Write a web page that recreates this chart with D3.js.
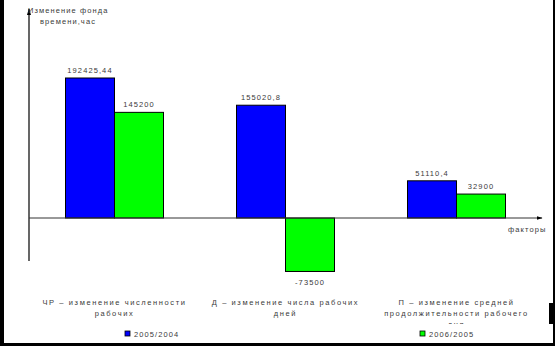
<!DOCTYPE html>
<html><head><meta charset="utf-8">
<script src="https://cdn.jsdelivr.net/npm/d3@7"></script>
<style>
html,body{margin:0;padding:0;background:#fff;}
svg text{font-family:"Liberation Sans",Arial,sans-serif;}
</style></head>
<body>
<script>
const categories = ["ЧР", "Д", "П"];
const categoryLabels = [
  ["ЧР – изменение численности", "рабочих"],
  ["Д – изменение числа рабочих", "дней"],
  ["П – изменение средней", "продолжительности рабочего", "дня"]
];
const seriesNames = ["2005/2004", "2006/2005"];
const series2005_2004 = [192425.44, 155020.8, 51110.4];
const series2006_2005 = [145200, -73500, 32900];
const valueLabels2005_2004 = ["192425,44", "155020,8", "51110,4"];
const valueLabels2006_2005 = ["145200", "-73500", "32900"];
const yTitle = ["Изменение фонда", "времени,час"];
const xTitle = "факторы";
const colors = ["#0000FF", "#00FF00"];

const W = 555, H = 346;
const svg = d3.select("body").append("svg").attr("width", W).attr("height", H);

// frame
svg.append("rect").attr("x",0).attr("y",0).attr("width",W).attr("height",H).attr("fill","#fff");
svg.append("rect").attr("x",0).attr("y",0).attr("width",4).attr("height",H).attr("fill","#000");
svg.append("rect").attr("x",0).attr("y",343).attr("width",W).attr("height",3).attr("fill","#000");
svg.append("rect").attr("x",553).attr("y",0).attr("width",2).attr("height",H).attr("fill","#000");
svg.append("rect").attr("x",549).attr("y",303).attr("width",6).attr("height",21).attr("fill","#000");

const y = d3.scaleLinear().domain([0, 192425.44]).range([218, 78]);
const x0 = d3.scaleBand().domain(categories).range([29, 542]).padding(0);
const bw = 49;
const x1 = d3.scaleBand().domain(seriesNames).range([x0.bandwidth()/2 - bw, x0.bandwidth()/2 + bw]).padding(0);

const txt = (sel) => sel.attr("font-size", "7.5px").attr("letter-spacing", "1.1px").attr("fill", "#3a3a3a");

// axes lines
const defs = svg.append("defs");
defs.append("marker").attr("id","arr").attr("viewBox","0 0 10 10").attr("refX",9).attr("refY",5)
  .attr("markerWidth",6).attr("markerHeight",6).attr("orient","auto")
  .append("path").attr("d","M0,2 L10,5 L0,8 Z").attr("fill","#000");

svg.append("line").attr("x1",29).attr("x2",29).attr("y1",261).attr("y2",9)
  .attr("stroke","#000").attr("stroke-width",1.2).attr("marker-end","url(#arr)");

const groups = svg.selectAll("g.grp").data(categories).join("g")
  .attr("transform", d => `translate(${x0(d)},0)`);

const allSeries = [series2005_2004, series2006_2005];
const allLabels = [valueLabels2005_2004, valueLabels2006_2005];

groups.each(function(c, i) {
  const g = d3.select(this);
  seriesNames.forEach((s, k) => {
    const v = allSeries[k][i];
    g.append("rect")
      .attr("x", x1(s)).attr("width", x1.bandwidth())
      .attr("y", y(Math.max(0, v))).attr("height", Math.abs(y(v) - y(0)))
      .attr("fill", colors[k]).attr("stroke", "#000").attr("stroke-width", 1);
    g.append("text").call(txt)
      .attr("x", x1(s) + x1.bandwidth()/2)
      .attr("y", v >= 0 ? y(v) - 5 : y(v) + 14)
      .attr("text-anchor", "middle").text(allLabels[k][i]);
  });
});

svg.append("line").attr("x1",29).attr("x2",542).attr("y1",y(0)).attr("y2",y(0))
  .attr("stroke","#333").attr("stroke-width",1).attr("marker-end","url(#arr)");

svg.append("text").call(txt).attr("x",508).attr("y",232).text(xTitle);

svg.append("text").call(txt).attr("x",28).attr("y",13).text(yTitle[0]);
svg.append("text").call(txt).attr("x",40).attr("y",24).text(yTitle[1]);

// category labels
defs.append("clipPath").attr("id","clipCat").append("rect").attr("x",0).attr("y",0).attr("width",W).attr("height",324);
const catG = svg.append("g").attr("clip-path","url(#clipCat)");
categories.forEach((c, i) => {
  categoryLabels[i].forEach((line, j) => {
    catG.append("text").call(txt).attr("letter-spacing", "1.6px")
      .attr("x", x0(c) + x0.bandwidth()/2)
      .attr("y", 305 + j*11)
      .attr("text-anchor","middle").text(line);
  });
});

// legend
const legX = [125, 420];
seriesNames.forEach((s, k) => {
  svg.append("rect").attr("x", legX[k]).attr("y", 331).attr("width", 5).attr("height", 5)
    .attr("fill", colors[k]).attr("stroke", "#000").attr("stroke-width", 0.8);
  svg.append("text").call(txt).attr("x", legX[k] + 9).attr("y", 337).text(s);
});
</script>
</body></html>
